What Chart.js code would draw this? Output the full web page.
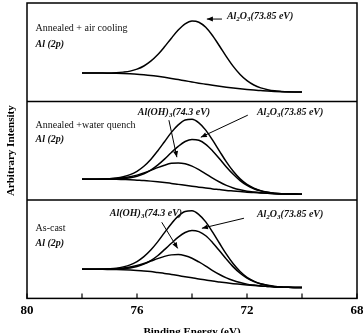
<!DOCTYPE html>
<html>
<head>
<meta charset="utf-8">
<script src="https://cdn.jsdelivr.net/npm/chart.js@4.4.0/dist/chart.umd.min.js"></script>
<style>
  html, body { margin: 0; padding: 0; background: #fff; }
</style>
</head>
<body>
<canvas id="xpsChart" width="363" height="333"></canvas>
<script>
// binding energy grid (eV)
const energy = [78, 77.75, 77.5, 77.25, 77, 76.75, 76.5, 76.25, 76, 75.75, 75.5, 75.25, 75, 74.75, 74.5, 74.25,
                74, 73.75, 73.5, 73.25, 73, 72.75, 72.5, 72.25, 72, 71.75, 71.5, 71.25, 71, 70.75, 70.5, 70.25, 70];

// Annealed + air cooling (top panel)
const airBg    = [28.8, 28.8, 28.8, 28.8, 28.7, 28.6, 28.4, 28.1, 27.7, 27.1, 26.4, 25.5, 24.5, 23.4, 22.2, 21.0,
                  19.8, 18.6, 17.5, 16.4, 15.4, 14.5, 13.7, 12.9, 12.2, 11.6, 11.1, 10.6, 10.2, 9.9, 9.7, 9.6, 9.5];
const airOxide = [28.8, 28.8, 28.8, 28.9, 29.0, 29.2, 29.8, 30.8, 32.8, 36.0, 40.9, 47.4, 55.5, 64.3, 72.5, 78.8,
                  81.7, 80.5, 75.3, 66.7, 56.3, 45.5, 35.6, 27.4, 21.1, 16.7, 13.8, 12.0, 10.8, 10.2, 9.8, 9.6, 9.5];

// Annealed + water quench (middle panel)
const waterBg        = [21.0, 21.0, 21.0, 21.0, 20.9, 20.9, 20.7, 20.5, 20.1, 19.7, 19.1, 18.4, 17.6, 16.8, 15.8, 14.9,
                        13.9, 13.0, 12.1, 11.2, 10.5, 9.7, 9.1, 8.5, 7.9, 7.5, 7.1, 6.7, 6.4, 6.1, 6.0, 5.9, 5.8];
const waterOxide     = [21.0, 21.0, 21.0, 21.1, 21.1, 21.4, 21.8, 22.6, 24.0, 26.5, 30.2, 35.3, 41.4, 48.2, 54.4, 59.3,
                        61.5, 60.6, 56.5, 49.8, 41.9, 33.5, 26.0, 19.6, 14.7, 11.4, 9.2, 7.8, 6.9, 6.3, 6.1, 5.9, 5.8];
const waterHydroxide = [21.0, 21.0, 21.1, 21.2, 21.4, 21.8, 22.5, 23.6, 25.2, 27.4, 30.0, 32.8, 35.3, 37.2, 37.6, 36.7,
                        34.3, 30.7, 26.5, 22.1, 18.2, 14.8, 12.2, 10.3, 8.9, 8.0, 7.3, 6.8, 6.4, 6.1, 6.0, 5.9, 5.8];
const waterTotal     = [21.0, 21.0, 21.1, 21.3, 21.6, 22.3, 23.6, 25.7, 29.1, 34.2, 41.1, 49.7, 59.1, 68.6, 76.2, 81.1,
                        81.9, 78.3, 70.9, 60.7, 49.6, 38.6, 29.1, 21.4, 15.7, 11.9, 9.4, 7.9, 6.9, 6.3, 6.1, 5.9, 5.8];

// As-cast (bottom panel)
const castBg        = [29.5, 29.5, 29.5, 29.5, 29.4, 29.3, 29.1, 28.8, 28.4, 27.9, 27.2, 26.3, 25.4, 24.3, 23.2, 22.0,
                       20.9, 19.7, 18.7, 17.6, 16.7, 15.8, 15.0, 14.3, 13.6, 13.0, 12.5, 12.1, 11.7, 11.4, 11.2, 11.1, 11.0];
const castOxide     = [29.5, 29.5, 29.5, 29.6, 29.6, 29.8, 30.2, 30.9, 32.4, 34.8, 38.4, 43.3, 49.5, 56.0, 62.2, 66.9,
                       69.0, 67.8, 63.6, 56.6, 48.4, 39.9, 32.0, 25.5, 20.5, 17.0, 14.6, 13.2, 12.2, 11.6, 11.3, 11.1, 11.0];
const castHydroxide = [29.5, 29.5, 29.6, 29.7, 29.9, 30.2, 30.9, 31.9, 33.4, 35.5, 37.9, 40.4, 42.7, 44.2, 44.5, 43.3,
                       40.8, 37.0, 32.8, 28.3, 24.3, 20.8, 18.1, 16.1, 14.5, 13.5, 12.7, 12.2, 11.7, 11.4, 11.2, 11.1, 11.0];
const castTotal     = [29.5, 29.5, 29.6, 29.8, 30.1, 30.7, 32.0, 34.0, 37.4, 42.4, 49.1, 57.4, 66.8, 75.9, 83.5, 88.2,
                       88.9, 85.1, 77.7, 67.3, 56.0, 44.9, 35.1, 27.3, 21.4, 17.5, 14.8, 13.3, 12.2, 11.6, 11.3, 11.1, 11.0];

const xTickLabels = [80, 76, 72, 68];

// each panel is 100 units tall, stacked from the bottom
const panels = [
    { offset: 200, curves: [airBg, airOxide] },
    { offset: 100, curves: [waterBg, waterOxide, waterHydroxide, waterTotal] },
    { offset: 0,   curves: [castBg, castOxide, castHydroxide, castTotal] }
];

const datasets = [];
panels.forEach(p => {
    p.curves.forEach(c => {
        datasets.push({
            data: energy.map((e, i) => ({ x: e, y: c[i] + p.offset })),
            borderColor: '#000',
            borderWidth: 1.5,
            pointRadius: 0,
            fill: false,
            cubicInterpolationMode: 'monotone'
        });
    });
});

const SERIF = '"Liberation Serif", "Times New Roman", serif';

const oxideParts = [['Al', 0], ['2', 1], ['O', 0], ['3', 1], ['(73.85 eV)', 0]];
const hydroxideParts = [['Al(OH)', 0], ['3', 1], ['(74.3 eV)', 0]];

// labels and arrows, placed in data coordinates
const plainNotes = [
    { text: 'Annealed + air cooling', e: 79.69, v: 274.6 },
    { text: 'Annealed +water quench', e: 79.69, v: 175.9 },
    { text: 'As-cast', e: 79.69, v: 71.2 }
];
const sampleNotes = [{ e: 79.69, v: 258.3 }, { e: 79.69, v: 161.7 }, { e: 79.69, v: 55.9 }];
const formulaNotes = [
    { parts: oxideParts, e: 72.73, v: 286.8 },
    { parts: hydroxideParts, e: 75.97, v: 189.2 },
    { parts: oxideParts, e: 71.64, v: 189.2 },
    { parts: hydroxideParts, e: 76.99, v: 86.4 },
    { parts: oxideParts, e: 71.64, v: 85.4 }
];
const arrows = [
    { from: [72.91, 283.7], to: [73.46, 283.7] },
    { from: [74.84, 181.0], to: [74.55, 143.4] },
    { from: [71.97, 186.1], to: [73.68, 163.7] },
    { from: [75.10, 77.3], to: [74.52, 50.8] },
    { from: [72.11, 81.4], to: [73.64, 71.2] }
];

function drawParts(ctx, parts, x, y) {
    parts.forEach(([t, sub]) => {
        ctx.font = 'italic bold ' + (sub ? 7 : 10) + 'px ' + SERIF;
        ctx.fillText(t, x, y + (sub ? 3 : 0));
        x += ctx.measureText(t).width;
    });
}

function drawArrow(ctx, x1, y1, x2, y2) {
    ctx.beginPath();
    ctx.moveTo(x1, y1);
    ctx.lineTo(x2, y2);
    ctx.stroke();
    const a = Math.atan2(y2 - y1, x2 - x1);
    const len = 6, w = 2.5;
    ctx.beginPath();
    ctx.moveTo(x2, y2);
    ctx.lineTo(x2 - len * Math.cos(a) + w * Math.sin(a), y2 - len * Math.sin(a) - w * Math.cos(a));
    ctx.lineTo(x2 - len * Math.cos(a) - w * Math.sin(a), y2 - len * Math.sin(a) + w * Math.cos(a));
    ctx.closePath();
    ctx.fill();
}

const decor = {
    id: 'decor',
    afterDraw(chart) {
        const ctx = chart.ctx;
        const xs = chart.scales.x, ys = chart.scales.y;
        const area = chart.chartArea;
        ctx.save();
        ctx.strokeStyle = '#000';
        ctx.fillStyle = '#111';
        ctx.lineWidth = 1.5;
        ctx.strokeRect(area.left, area.top, area.right - area.left, area.bottom - area.top);
        [100, 200].forEach(v => {
            const py = ys.getPixelForValue(v);
            ctx.beginPath();
            ctx.moveTo(area.left, py);
            ctx.lineTo(area.right, py);
            ctx.stroke();
        });
        // inner tick marks on the bottom axis
        ctx.lineWidth = 1.2;
        xs.ticks.forEach(t => {
            const px = xs.getPixelForValue(t.value);
            ctx.beginPath();
            ctx.moveTo(px, area.bottom);
            ctx.lineTo(px, area.bottom - 5);
            ctx.stroke();
        });

        ctx.textBaseline = 'middle';
        ctx.textAlign = 'left';
        ctx.font = '10px ' + SERIF;
        plainNotes.forEach(n => ctx.fillText(n.text, xs.getPixelForValue(n.e), ys.getPixelForValue(n.v)));
        ctx.font = 'italic bold 10px ' + SERIF;
        sampleNotes.forEach(n => ctx.fillText('Al (2p)', xs.getPixelForValue(n.e), ys.getPixelForValue(n.v)));
        formulaNotes.forEach(n => drawParts(ctx, n.parts, xs.getPixelForValue(n.e), ys.getPixelForValue(n.v)));

        ctx.lineWidth = 1;
        ctx.fillStyle = '#000';
        arrows.forEach(a => drawArrow(ctx,
            xs.getPixelForValue(a.from[0]), ys.getPixelForValue(a.from[1]),
            xs.getPixelForValue(a.to[0]), ys.getPixelForValue(a.to[1])));

        // axis titles
        ctx.textAlign = 'center';
        ctx.font = 'bold 11px ' + SERIF;
        ctx.fillText('Binding Energy (eV)', (area.left + area.right) / 2, 332);
        ctx.translate(11, (area.top + area.bottom) / 2);
        ctx.rotate(-Math.PI / 2);
        ctx.fillText('Arbitrary Intensity', 0, 0);
        ctx.restore();
    }
};

new Chart(document.getElementById('xpsChart').getContext('2d'), {
    type: 'line',
    data: { datasets: datasets },
    options: {
        responsive: false,
        animation: false,
        devicePixelRatio: 1,
        layout: { padding: { left: 27, right: 6, top: 3, bottom: 11 } },
        scales: {
            x: {
                type: 'linear',
                min: 68,
                max: 80,
                reverse: true,
                grid: { display: false, drawTicks: false },
                border: { display: false },
                afterFit: s => { s.paddingLeft = 0; s.paddingRight = 0; },
                ticks: {
                    stepSize: 2,
                    autoSkip: false,
                    maxRotation: 0,
                    padding: 4,
                    color: '#000',
                    font: { family: SERIF, size: 13, weight: 'bold' },
                    callback: v => xTickLabels.includes(v) ? v : ''
                }
            },
            y: { display: false, min: 0, max: 300 }
        },
        plugins: {
            legend: { display: false },
            tooltip: { enabled: false }
        }
    },
    plugins: [decor]
});
</script>
</body>
</html>
